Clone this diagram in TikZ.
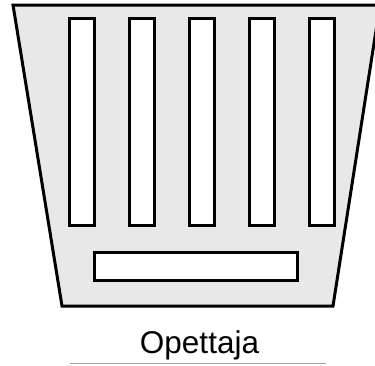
\documentclass[tikz,border=0pt]{standalone}
\usepackage{fontspec}
\setmainfont{Liberation Sans}
\usepackage{tikz}
\usetikzlibrary{positioning, calc}

\tikzset{
  desk/.style={draw=black, fill=white, line width=3pt},
  room/.style={draw=black, fill=gray!18, line width=3pt, line join=miter}
}

\begin{document}
\begin{tikzpicture}[x=1pt, y=-1pt]
\useasboundingbox (0,0) rectangle (375,365);
% classroom outline
\draw[room] (13,5) -- (380,5) -- (333,306) -- (62,306) -- cycle;
% student desks
\foreach \i in {0,...,4}
  \draw[desk] ({69.5+60*\i},18.5) rectangle ({94.5+60*\i},225);
% teacher desk
\draw[desk] (94.5,252.5) rectangle (297.5,280.5);
\node[anchor=base, inner sep=0pt, font=\fontsize{31.5}{38}\selectfont] (label) at (199.5,353) {Opettaja};
\coordinate (lineL) at (70,363);
\coordinate (lineR) at (326,363);
\draw[gray!70, line width=1pt] (lineL) -- (lineR);
\end{tikzpicture}
\end{document}
